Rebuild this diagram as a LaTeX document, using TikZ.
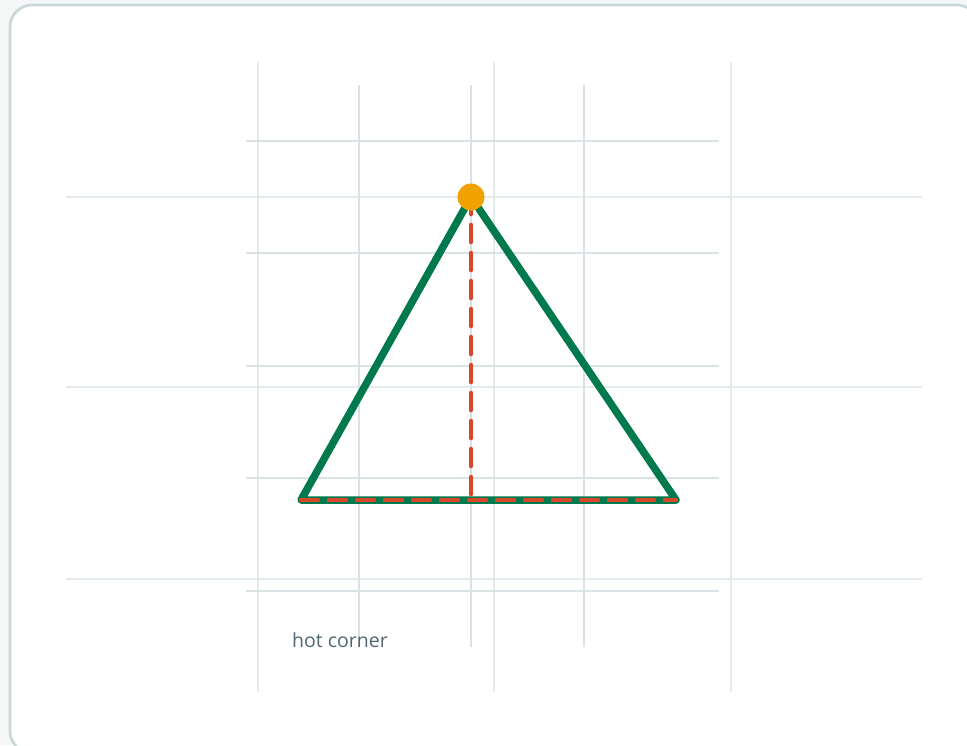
\documentclass[tikz,border=0pt]{standalone}
\usepackage{fontspec}
\setmainfont{Open Sans}
\begin{document}
\begin{tikzpicture}[x=1pt,y=-1pt,
  outergrid/.style={draw=gridA,line width=2.2pt},
  innergrid/.style={draw=gridB,line width=2.8pt},
  tri/.style={draw=triGreen,line width=7.5pt,line join=round,line cap=round},
  reddash/.style={draw=dashRed,line width=4.6pt,line cap=round,dash pattern=on 17pt off 11pt},
  lbl/.style={text=labelGrey,font=\fontsize{19.5}{23}\selectfont,inner sep=0pt,anchor=base west}]
\definecolor{bgGrey}{HTML}{F5F7F7}
\definecolor{cardBorder}{HTML}{C9D6DA}
\definecolor{gridA}{HTML}{E4EBEB}
\definecolor{gridB}{HTML}{D9E3E5}
\definecolor{triGreen}{HTML}{007A4D}
\definecolor{dashRed}{HTML}{D9472B}
\definecolor{dotOrange}{HTML}{F0A202}
\definecolor{labelGrey}{HTML}{4F6770}
\useasboundingbox (0,0) rectangle (967,745);
\clip (0,0) rectangle (967,745);
\fill[bgGrey] (0,0) rectangle (967,745);
\draw[cardBorder,line width=2.6pt,fill=white,rounded corners=22pt] (10,5) rectangle (979,753);
% outer grid
\foreach \x in {258,494,731} \draw[outergrid] (\x,62) -- (\x,692);
\foreach \y in {197,387,579} \draw[outergrid] (66,\y) -- (922,\y);
% inner grid
\foreach \x in {359,471,584} \draw[innergrid] (\x,85) -- (\x,647);
\foreach \y in {141,253,366,478,591} \draw[innergrid] (246,\y) -- (719,\y);
% triangle
\coordinate (apex) at (471,197);
\coordinate (bl) at (301,500);
\coordinate (br) at (676,500);
\coordinate (foot) at (471,500);
\draw[tri] (apex) -- (br) -- (bl) -- cycle;
\draw[reddash] (apex) -- (foot);
\draw[reddash] (bl) -- (br);
\node[circle,fill=dotOrange,minimum size=27pt,inner sep=0pt] (dot) at (apex) {};
\node[lbl] (hot) at (292,647) {hot corner};
\end{tikzpicture}
\end{document}
